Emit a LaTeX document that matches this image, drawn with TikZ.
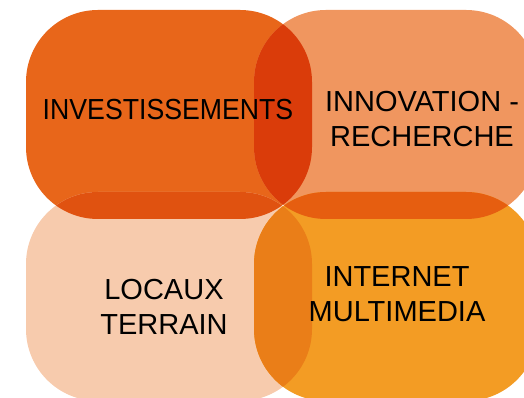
\documentclass[tikz,border=0pt]{standalone}
\usepackage{fontspec}
\setmainfont{Liberation Sans}
\definecolor{invest}{HTML}{E8661A}
\definecolor{innov}{HTML}{F0965F}
\definecolor{locaux}{HTML}{F7CBAD}
\definecolor{internet}{HTML}{F39C24}
\definecolor{investinnov}{HTML}{DA3C0A}
\definecolor{investlocaux}{HTML}{E05210}
\definecolor{innovinternet}{HTML}{E65E10}
\definecolor{locauxinternet}{HTML}{EA7E18}
\newcommand\boxpath[4]{(#1,#2) rectangle (#3,#4)}
\newcommand\overlap[3]{\begin{scope}\clip[rounded corners=72pt] #1;\fill[#3,rounded corners=72pt] #2;\end{scope}}

\begin{document}
\begin{tikzpicture}[x=1pt,y=1pt,
    label/.style={align=center,inner sep=0pt,text=black,font=\fontsize{29}{35}\selectfont}]
    \useasboundingbox (0,0) rectangle (524,398);
    \def\tl{\boxpath{26}{179}{312}{388}}
    \def\tr{\boxpath{254}{179}{538}{388}}
    \def\bl{\boxpath{26}{-3}{312}{206}}
    \def\br{\boxpath{254}{-3}{538}{206}}
    % the four boxes
    \fill[invest,rounded corners=72pt] \tl;
    \fill[innov,rounded corners=72pt] \tr;
    \fill[locaux,rounded corners=72pt] \bl;
    \fill[internet,rounded corners=72pt] \br;
    % where they overlap
    \overlap{\tl}{\tr}{investinnov}
    \overlap{\tl}{\bl}{investlocaux}
    \overlap{\tr}{\br}{innovinternet}
    \overlap{\bl}{\br}{locauxinternet}
    % labels
    \node(investissements)[label] at (168,288) {\scalebox{0.92}[1]{INVESTISSEMENTS}};
    \node(innovation)[label] at (422,279) {INNOVATION -\\RECHERCHE};
    \node(locauxterrain)[label] at (164,91.5) {LOCAUX\\TERRAIN};
    \node(multimedia)[label] at (397,103.5) {INTERNET\\MULTIMEDIA};
\end{tikzpicture}
\end{document}
